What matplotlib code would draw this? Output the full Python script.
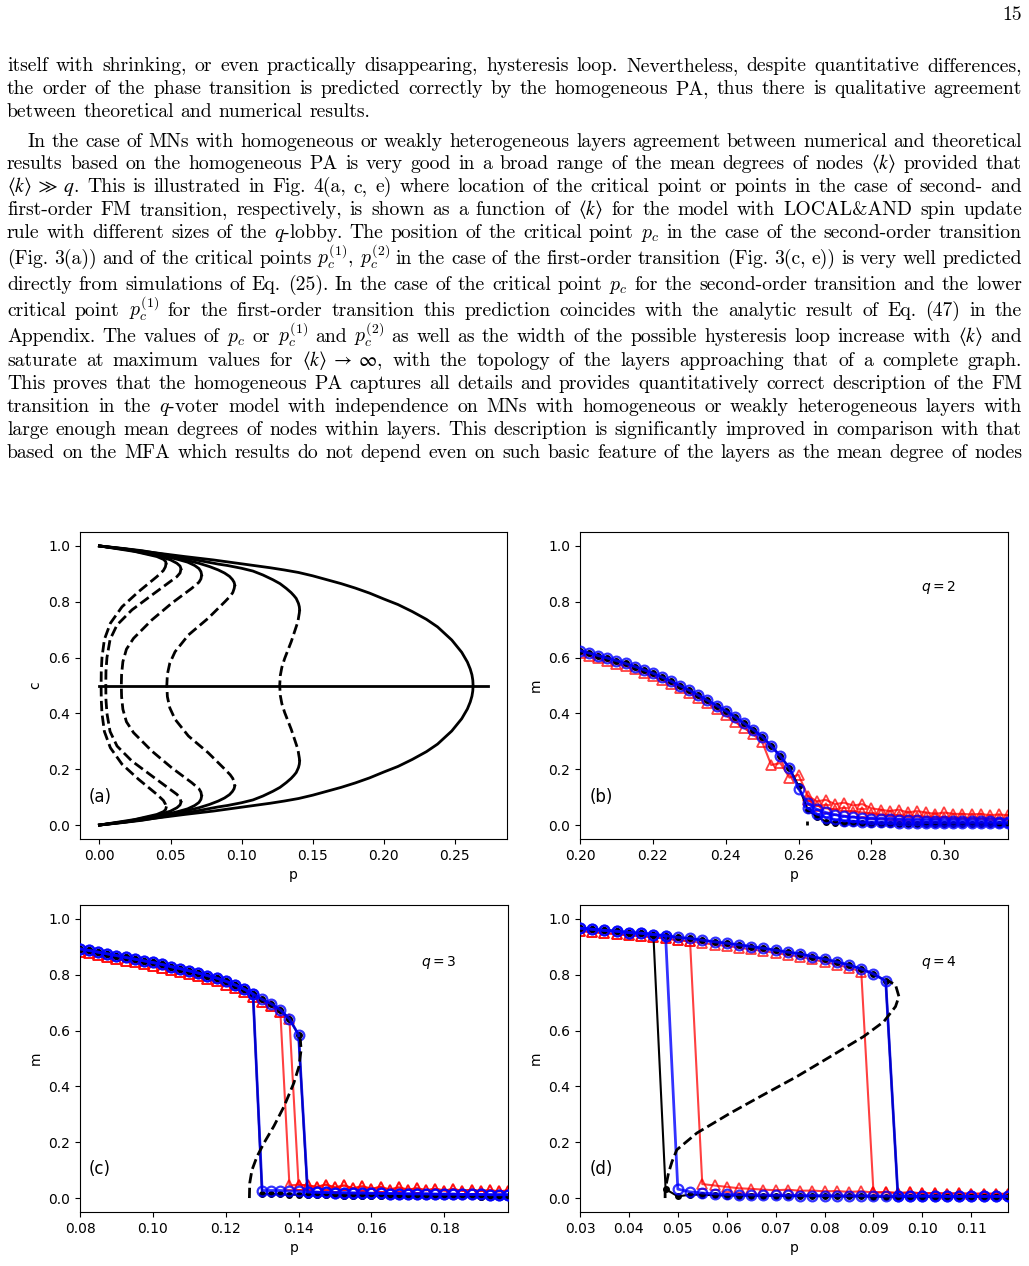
import numpy as np
import matplotlib
matplotlib.use("Agg")
import matplotlib.pyplot as plt

W, H = 1029, 1266

# ---- page text (one entry per printed line) ----
page_no = "15"
para_lines = [
    "itself with shrinking, or even practically disappearing, hysteresis loop. Nevertheless, despite quantitative differences,",
    "the order of the phase transition is predicted correctly by the homogeneous PA, thus there is qualitative agreement",
    "between theoretical and numerical results.",
    "In the case of MNs with homogeneous or weakly heterogeneous layers agreement between numerical and theoretical",
    r"results based on the homogeneous PA is very good in a broad range of the mean degrees of nodes $\langle{k}\rangle$ provided that",
    r"$\langle{k}\rangle\;\gg\;q$. This is illustrated in Fig. 4(a, c, e) where location of the critical point or points in the case of second- and",
    r"first-order FM transition, respectively, is shown as a function of $\langle{k}\rangle$ for the model with LOCAL&AND spin update",
    r"rule with different sizes of the $q$-lobby. The position of the critical point $p_c$ in the case of the second-order transition",
    r"(Fig. 3(a)) and of the critical points $p_c^{(1)}$, $p_c^{(2)}$ in the case of the first-order transition (Fig. 3(c, e)) is very well predicted",
    r"directly from simulations of Eq. (25). In the case of the critical point $p_c$ for the second-order transition and the lower",
    r"critical point $p_c^{(1)}$ for the first-order transition this prediction coincides with the analytic result of Eq. (47) in the",
    r"Appendix. The values of $p_c$ or $p_c^{(1)}$ and $p_c^{(2)}$ as well as the width of the possible hysteresis loop increase with $\langle{k}\rangle$ and",
    r"saturate at maximum values for $\langle{k}\rangle\;\to\;\infty$, with the topology of the layers approaching that of a complete graph.",
    "This proves that the homogeneous PA captures all details and provides quantitatively correct description of the FM",
    r"transition in the $q$-voter model with independence on MNs with homogeneous or weakly heterogeneous layers with",
    "large enough mean degrees of nodes within layers. This description is significantly improved in comparison with that",
    "based on the MFA which results do not depend even on such basic feature of the layers as the mean degree of nodes",
]
line_base = [71, 94, 117, 147, 169, 192, 215, 238, 264, 290, 316, 342, 366, 389, 412, 435, 458]
line_left = [7, 7, 7, 27] + [7] * 13
line_just = [True, True, False] + [True] * 14

# ---- panel (a): upper halves (p, c) of the stationary curves ----
a1_sp = [0.0, 0.025, 0.0404, 0.0450, 0.0465, 0.0469]
a1_sc = [1.0, 0.980, 0.962, 0.952, 0.945, 0.938]
a1_dp = [0.0469, 0.0464, 0.0450, 0.0404, 0.0275, 0.0159, 0.0077, 0.0035, 0.0018, 0.0013, 0.0012]
a1_dc = [0.938, 0.925, 0.912, 0.890, 0.836, 0.782, 0.723, 0.665, 0.600, 0.550, 0.5]

a2_sp = [0.0, 0.02, 0.04, 0.050, 0.0545, 0.0567, 0.0574]
a2_sc = [1.0, 0.986, 0.966, 0.950, 0.938, 0.928, 0.918]
a2_dp = [0.0574, 0.0567, 0.0545, 0.0497, 0.0369, 0.0229, 0.0124, 0.0075, 0.0053, 0.0046, 0.0045]
a2_dc = [0.918, 0.903, 0.890, 0.872, 0.824, 0.771, 0.717, 0.665, 0.600, 0.550, 0.5]

a3_sp = [0.0, 0.02, 0.04, 0.055, 0.062, 0.067, 0.0700, 0.0714, 0.0719]
a3_sc = [1.0, 0.987, 0.970, 0.952, 0.942, 0.930, 0.919, 0.908, 0.896]
a3_dp = [0.0719, 0.0714, 0.0700, 0.0649, 0.0509, 0.0369, 0.0240, 0.0190, 0.0165, 0.0156, 0.0154]
a3_dc = [0.896, 0.882, 0.870, 0.848, 0.795, 0.735, 0.669, 0.630, 0.585, 0.540, 0.5]

a4_sp = [0.0, 0.02, 0.04, 0.0602, 0.070, 0.0775, 0.0836, 0.0880, 0.0915, 0.0935, 0.0947, 0.0952]
a4_sc = [1.0, 0.988, 0.972, 0.950, 0.938, 0.926, 0.914, 0.903, 0.891, 0.880, 0.870, 0.860]
a4_dp = [0.0952, 0.0948, 0.0938, 0.0920, 0.0882, 0.0765, 0.0626, 0.0532, 0.0495, 0.0478, 0.0474]
a4_dc = [0.860, 0.848, 0.833, 0.820, 0.800, 0.741, 0.681, 0.621, 0.580, 0.540, 0.5]

a5_sp = [0.0, 0.015, 0.03, 0.045, 0.06, 0.07, 0.0836, 0.09, 0.10, 0.108, 0.115, 0.122,
         0.127, 0.1314, 0.1348, 0.1368, 0.1384, 0.1393, 0.1400, 0.1406, 0.1408]
a5_sc = [1.0, 0.992, 0.983, 0.970, 0.957, 0.948, 0.935, 0.930, 0.920, 0.910, 0.896, 0.879,
         0.865, 0.848, 0.833, 0.822, 0.812, 0.802, 0.794, 0.782, 0.771]
a5_dp = [0.1408, 0.1406, 0.1402, 0.1396, 0.1349, 0.1303, 0.1283, 0.1272, 0.1268]
a5_dc = [0.771, 0.760, 0.748, 0.729, 0.657, 0.597, 0.565, 0.535, 0.5]

a6_p = [0.0, 0.01, 0.02, 0.04, 0.06, 0.08, 0.10, 0.12, 0.13, 0.14, 0.15, 0.16, 0.17, 0.18,
        0.19, 0.20, 0.21, 0.22, 0.23, 0.2378, 0.2478, 0.2548, 0.2588, 0.2608, 0.2620, 0.2626, 0.2628]
a6_c = [1.0, 0.994, 0.988, 0.975, 0.962, 0.950, 0.936, 0.922, 0.914, 0.905, 0.893, 0.879, 0.865, 0.849,
        0.831, 0.810, 0.790, 0.765, 0.737, 0.710, 0.663, 0.619, 0.584, 0.559, 0.538, 0.519, 0.5]

a_mid_p = [0.0, 0.273]
a_mid_c = [0.5, 0.5]

# ---- panel (b): q = 2 ----
pb = np.round(0.20 + 0.0025 * np.arange(48), 4)
b_black = [0.625, 0.616, 0.607, 0.598, 0.589, 0.579, 0.568, 0.556, 0.544, 0.530,
           0.515, 0.499, 0.483, 0.465, 0.447, 0.428, 0.409, 0.388, 0.365, 0.342,
           0.317, 0.283, 0.247, 0.204, 0.140, 0.055, 0.030, 0.012, 0.008, 0.007,
           0.006, 0.006, 0.005, 0.005, 0.005, 0.004, 0.004, 0.004, 0.004, 0.003,
           0.003, 0.003, 0.003, 0.003, 0.003, 0.002, 0.002, 0.002]
b_blue = [0.625, 0.616, 0.607, 0.598, 0.589, 0.579, 0.568, 0.556, 0.544, 0.530,
          0.515, 0.499, 0.483, 0.465, 0.447, 0.428, 0.409, 0.388, 0.365, 0.342,
          0.317, 0.283, 0.247, 0.204, 0.130, 0.078, 0.056, 0.045, 0.037, 0.032,
          0.028, 0.025, 0.023, 0.021, 0.020, 0.019, 0.018, 0.017, 0.016, 0.016,
          0.015, 0.015, 0.014, 0.014, 0.013, 0.013, 0.012, 0.012]
b_blue_lo = [0.060, 0.040, 0.026, 0.020, 0.016, 0.014, 0.012, 0.011, 0.010, 0.010,
             0.009, 0.009, 0.008, 0.008, 0.008, 0.007, 0.007, 0.007, 0.007, 0.006,
             0.006, 0.006, 0.006]
b_red = [0.615, 0.607, 0.597, 0.588, 0.578, 0.570, 0.558, 0.546, 0.534, 0.519,
         0.505, 0.490, 0.472, 0.456, 0.438, 0.416, 0.393, 0.370, 0.348, 0.325,
         0.298, 0.215, 0.222, 0.170, 0.180, 0.105, 0.085, 0.090, 0.075, 0.080,
         0.070, 0.075, 0.060, 0.055, 0.050, 0.055, 0.045, 0.050, 0.045, 0.040,
         0.045, 0.040, 0.040, 0.038, 0.040, 0.035, 0.038, 0.035]
b_red_lo = [0.090, 0.070, 0.060, 0.055, 0.050, 0.048, 0.045, 0.040, 0.038, 0.035,
            0.033, 0.032, 0.030, 0.030, 0.028, 0.027, 0.026, 0.025, 0.025, 0.024,
            0.023, 0.023, 0.022]
b_lo_start = 25
b_th_p = [0.2622, 0.2622]
b_th_m = [0.0, 0.015]

# ---- panel (c): q = 3 ----
pc = np.round(0.08 + 0.0025 * np.arange(48), 4)
c_ord = [0.893, 0.887, 0.881, 0.875, 0.869, 0.862, 0.856, 0.850, 0.844, 0.837,
         0.829, 0.822, 0.814, 0.806, 0.797, 0.788, 0.777, 0.764, 0.749, 0.731,
         0.712, 0.696, 0.674, 0.642, 0.585]
c_black_dis = [0.016, 0.014, 0.013, 0.012, 0.012, 0.011, 0.011, 0.010, 0.010, 0.009,
               0.009, 0.009, 0.008, 0.008, 0.008, 0.007, 0.007, 0.007, 0.007, 0.006,
               0.006, 0.006, 0.006, 0.006, 0.005, 0.005, 0.005, 0.005]
c_blue_dis = [0.027, 0.027, 0.027, 0.025, 0.024, 0.022, 0.021, 0.020, 0.019, 0.019,
              0.018, 0.018, 0.017, 0.017, 0.016, 0.016, 0.015, 0.015, 0.015, 0.014,
              0.014, 0.014, 0.013, 0.013, 0.013, 0.012, 0.012, 0.012]
c_red_ord = [0.883, 0.877, 0.871, 0.865, 0.858, 0.851, 0.845, 0.839, 0.832, 0.825,
             0.817, 0.810, 0.802, 0.794, 0.785, 0.776, 0.765, 0.752, 0.737, 0.720,
             0.703, 0.688, 0.668, 0.640]
c_red_dis = [0.045, 0.048, 0.045, 0.040, 0.048, 0.038, 0.045, 0.035, 0.042, 0.033,
             0.040, 0.030, 0.038, 0.030, 0.035, 0.028, 0.033, 0.027, 0.032, 0.026,
             0.030, 0.025, 0.028, 0.024, 0.027]
c_kb_up, c_kb_down = 20, 25      # jump indices: backward / forward sweep
c_r_up, c_r_down = 23, 24
c_th_p = [0.1265, 0.1266, 0.1272, 0.1286, 0.1305, 0.1332, 0.1360, 0.1387, 0.1401, 0.1407, 0.1405, 0.1400]
c_th_m = [0.0, 0.054, 0.100, 0.149, 0.197, 0.257, 0.328, 0.412, 0.471, 0.531, 0.567, 0.585]

# ---- panel (d): q = 4 ----
pdd = np.round(0.03 + 0.0025 * np.arange(36), 4)
d_ord = [0.967, 0.963, 0.959, 0.956, 0.951, 0.949, 0.944, 0.940, 0.934, 0.930,
         0.924, 0.918, 0.913, 0.907, 0.901, 0.895, 0.888, 0.881, 0.875, 0.865,
         0.856, 0.846, 0.835, 0.821, 0.803, 0.778]
d_black_dis = [0.032, 0.006, 0.012, 0.012, 0.010, 0.009, 0.009, 0.008, 0.008, 0.008,
               0.007, 0.007, 0.007, 0.006, 0.006, 0.006, 0.006, 0.005, 0.005, 0.005,
               0.005, 0.005, 0.004, 0.004, 0.004, 0.004, 0.004, 0.004, 0.004]
d_blue_dis = [0.032, 0.022, 0.018, 0.015, 0.013, 0.012, 0.011, 0.011, 0.010, 0.010,
              0.009, 0.009, 0.009, 0.008, 0.008, 0.008, 0.008, 0.007, 0.007, 0.007,
              0.007, 0.007, 0.006, 0.006, 0.006, 0.006, 0.006, 0.006]
d_red_ord = [0.957, 0.953, 0.949, 0.946, 0.941, 0.939, 0.934, 0.930, 0.924, 0.920,
             0.914, 0.908, 0.903, 0.897, 0.891, 0.885, 0.878, 0.871, 0.865, 0.855,
             0.846, 0.836, 0.825, 0.811]
d_red_dis = [0.050, 0.045, 0.040, 0.035, 0.033, 0.030, 0.028, 0.030, 0.026, 0.027,
             0.024, 0.025, 0.022, 0.024, 0.020, 0.021, 0.018, 0.020, 0.017, 0.018,
             0.016, 0.017, 0.015, 0.016, 0.015, 0.015]
d_k_up, d_b_up, d_r_up, d_down, d_r_down = 7, 8, 10, 26, 24
d_th_p = [0.0474, 0.0474, 0.0481, 0.0488, 0.0498, 0.0539, 0.0607, 0.0675, 0.0744,
          0.0812, 0.0880, 0.0921, 0.0945, 0.0952, 0.0945, 0.0928]
d_th_m = [0.0, 0.030, 0.090, 0.130, 0.173, 0.233, 0.304, 0.370, 0.436,
          0.507, 0.579, 0.632, 0.686, 0.722, 0.764, 0.780]


fig = plt.figure(figsize=(W / 100, H / 100), dpi=100)
renderer = fig.canvas.get_renderer()
FS = 14.2


def page_line(y, s, x0, just):
    words = s.split(" ")
    arts, widths = [], []
    for w in words:
        mf = "stix" if "langle" in w else "cm"
        t = fig.text(0, 1 - y / H, w, fontsize=FS, family="cmr10",
                     math_fontfamily=mf, va="baseline", ha="left")
        arts.append(t)
        widths.append(t.get_window_extent(renderer).width)
    gap = (1022 - x0 - sum(widths)) / (len(words) - 1) if just else 0.333 * FS * 1.389
    x = x0
    for t, w in zip(arts, widths):
        t.set_x(x / W)
        x += w + gap


fig.text(1022 / W, 1 - 20 / H, page_no, fontsize=FS, family="cmr10", ha="right", va="baseline")
for y, s, x0, j in zip(line_base, para_lines, line_left, line_just):
    page_line(y, s, x0, j)

ax_a = fig.add_axes([80 / W, 427 / H, 427 / W, 307 / H])
ax_b = fig.add_axes([580 / W, 427 / H, 428 / W, 307 / H])
ax_c = fig.add_axes([80 / W, 54 / H, 428 / W, 307 / H])
ax_d = fig.add_axes([580 / W, 54 / H, 428 / W, 307 / H])

# panel (a)
ax = ax_a
for sp, sc, dp, dc in [(a1_sp, a1_sc, a1_dp, a1_dc), (a2_sp, a2_sc, a2_dp, a2_dc),
                       (a3_sp, a3_sc, a3_dp, a3_dc), (a4_sp, a4_sc, a4_dp, a4_dc),
                       (a5_sp, a5_sc, a5_dp, a5_dc)]:
    sp, sc, dp, dc = map(np.array, (sp, sc, dp, dc))
    ax.plot(sp, sc, color="k", lw=2)
    ax.plot(sp, 1 - sc, color="k", lw=2)
    ax.plot(np.concatenate([dp, dp[::-1]]), np.concatenate([dc, 1 - dc[::-1]]),
            color="k", lw=2, ls="--")
a6p, a6c = np.array(a6_p), np.array(a6_c)
ax.plot(np.concatenate([a6p, a6p[::-1]]), np.concatenate([a6c, 1 - a6c[::-1]]), color="k", lw=2)
ax.plot(a_mid_p, a_mid_c, color="k", lw=2)
ax.set_xlabel("p")
ax.set_ylabel("c")
ax.text(0.02, 0.137, "(a)", transform=ax.transAxes, fontsize=12, va="center")

blk = dict(color="k", marker="o", ms=4, lw=1.5, zorder=3)
blu = dict(color="blue", marker="o", ms=7, mfc="none", mew=1.6, lw=2, alpha=0.8, zorder=4)
rd = dict(color="red", marker="^", ms=7, mfc="none", mew=1.3, lw=1.5, alpha=0.75, zorder=2)

# panel (b)
ax = ax_b
ax.plot(pb, b_red, **rd)
ax.plot(pb[b_lo_start:], b_red_lo, **rd)
ax.plot(pb, b_black, **blk)
ax.plot(pb, b_blue, **blu)
ax.plot(pb[b_lo_start:], b_blue_lo, **blu)
ax.plot(b_th_p, b_th_m, color="k", lw=2, ls="--", zorder=5)
ax.set_xlim(pb[0], pb[-1])
ax.text(0.797, 0.818, "$q=2$", transform=ax.transAxes, fontsize=10, va="center")
ax.text(0.023, 0.137, "(b)", transform=ax.transAxes, fontsize=12, va="center")

# panel (c)
ax = ax_c
ax.plot(pc, c_red_ord[:c_r_up] + c_red_dis, **rd)
ax.plot(pc, c_red_ord[:c_r_down] + c_red_dis[c_r_down - c_r_up:], **rd)
ax.plot(pc, c_ord[:c_kb_up] + c_black_dis, **blk)
ax.plot(pc, c_ord[:c_kb_down] + c_black_dis[c_kb_down - c_kb_up:], **blk)
ax.plot(pc, c_ord[:c_kb_up] + c_blue_dis, **blu)
ax.plot(pc, c_ord[:c_kb_down] + c_blue_dis[c_kb_down - c_kb_up:], **blu)
ax.plot(c_th_p, c_th_m, color="k", lw=2, ls="--", zorder=5)
ax.set_xlim(pc[0], pc[-1])
ax.text(0.797, 0.814, "$q=3$", transform=ax.transAxes, fontsize=10, va="center")
ax.text(0.021, 0.14, "(c)", transform=ax.transAxes, fontsize=12, va="center")

# panel (d)
ax = ax_d
ax.plot(pdd, d_red_ord[:d_r_up] + d_red_dis, **rd)
ax.plot(pdd, d_red_ord[:d_r_down] + d_red_dis[d_r_down - d_r_up:], **rd)
ax.plot(pdd, d_ord[:d_k_up] + d_black_dis, **blk)
ax.plot(pdd, d_ord[:d_down] + d_black_dis[d_down - d_k_up:], **blk)
ax.plot(pdd, d_ord[:d_b_up] + d_blue_dis, **blu)
ax.plot(pdd, d_ord[:d_down] + d_blue_dis[d_down - d_b_up:], **blu)
ax.plot(d_th_p, d_th_m, color="k", lw=2, ls="--", zorder=5)
ax.set_xlim(pdd[0], pdd[-1])
ax.text(0.797, 0.814, "$q=4$", transform=ax.transAxes, fontsize=10, va="center")
ax.text(0.023, 0.14, "(d)", transform=ax.transAxes, fontsize=12, va="center")

for ax in (ax_b, ax_c, ax_d):
    ax.set_ylim(-0.05, 1.05)
    ax.set_xlabel("p")
    ax.set_ylabel("m")

fig.savefig("out.png", dpi=100)
